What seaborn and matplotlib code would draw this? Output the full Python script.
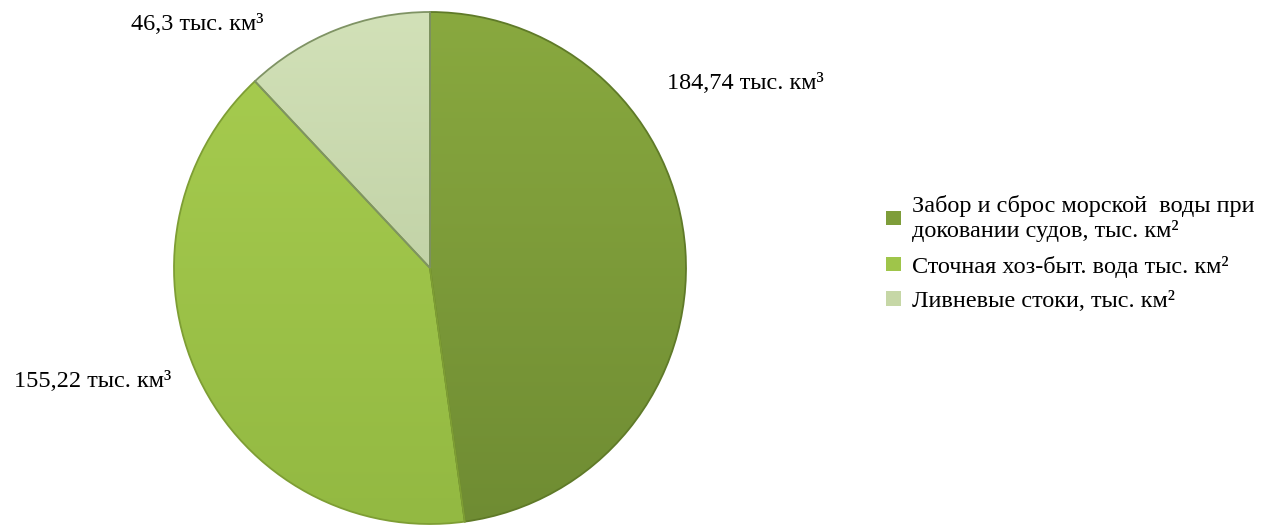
import matplotlib
matplotlib.use("Agg")
import matplotlib.pyplot as plt
import matplotlib.colors as mcolors
import numpy as np
import seaborn as sns

sns.set_theme(style="white")
plt.rcParams['font.family'] = ['Liberation Serif', 'DejaVu Serif']
plt.rcParams['text.color'] = 'black'

# Data
categories = ["Забор и сброс морской  воды при\nдоковании судов, тыс. км²",
              "Сточная хоз-быт. вода тыс. км²",
              "Ливневые стоки, тыс. км²"]
values = [184.74, 155.22, 46.3]
value_labels = ["184,74 тыс. км³", "155,22 тыс. км³", "46,3 тыс. км³"]

# Style / layout
colors = ["#7e9d3a", "#9fc54a", "#c6d7a6"]
grad_top = ["#89a93f", "#a8cd50", "#d2e1b8"]
grad_bot = ["#6f8c33", "#93b942", "#b3c597"]
edge_colors = ["#5f7a28", "#7e9e34", "#7f9364"]
label_pos = [(1.23, 0.72), (-1.316, -0.445), (-0.91, 0.95)]
FS = 17.5

W, H = 1279, 525
fig = plt.figure(figsize=(W / 100, H / 100), dpi=100)
cx, cy, r = 430, 268, 256
ax = fig.add_axes([(cx - r) / W, (H - cy - r) / H, 2 * r / W, 2 * r / H])

wedges, _ = ax.pie(values, colors=colors, startangle=90, counterclock=False,
                   radius=1.0, wedgeprops=dict(linewidth=1.3))

# vertical gradient fill inside each wedge
for w, ec, c0, c1 in zip(wedges, edge_colors, grad_top, grad_bot):
    w.set_edgecolor(ec)
    cmap = mcolors.LinearSegmentedColormap.from_list("g", [c1, c0])
    grad = np.linspace(0, 1, 256).reshape(-1, 1)
    im = ax.imshow(grad, cmap=cmap, extent=(-1, 1, -1, 1), origin="lower",
                   aspect="auto", zorder=w.get_zorder() + 0.1)
    im.set_clip_path(w)
    w.set_facecolor("none")
    w.set_zorder(w.get_zorder() + 0.2)

ax.set_xlim(-1, 1)
ax.set_ylim(-1, 1)
ax.set_aspect("equal")
ax.axis("off")

for txt, (x, y) in zip(value_labels, label_pos):
    ax.text(x, y, txt, ha="center", va="center", fontsize=FS,
            color="black", clip_on=False)

handles = [plt.Rectangle((0, 0), 1, 1, facecolor=c, edgecolor="none")
           for c in colors]
fig.legend(handles, categories, loc="upper left",
           bbox_to_anchor=(886 / W, 1 - 195 / H), frameon=False,
           fontsize=FS, handlelength=0.6, handleheight=0.55,
           handletextpad=0.45, labelspacing=0.55, labelcolor="black",
           borderpad=0, borderaxespad=0)

fig.savefig("out.png", dpi=100, facecolor="white")
